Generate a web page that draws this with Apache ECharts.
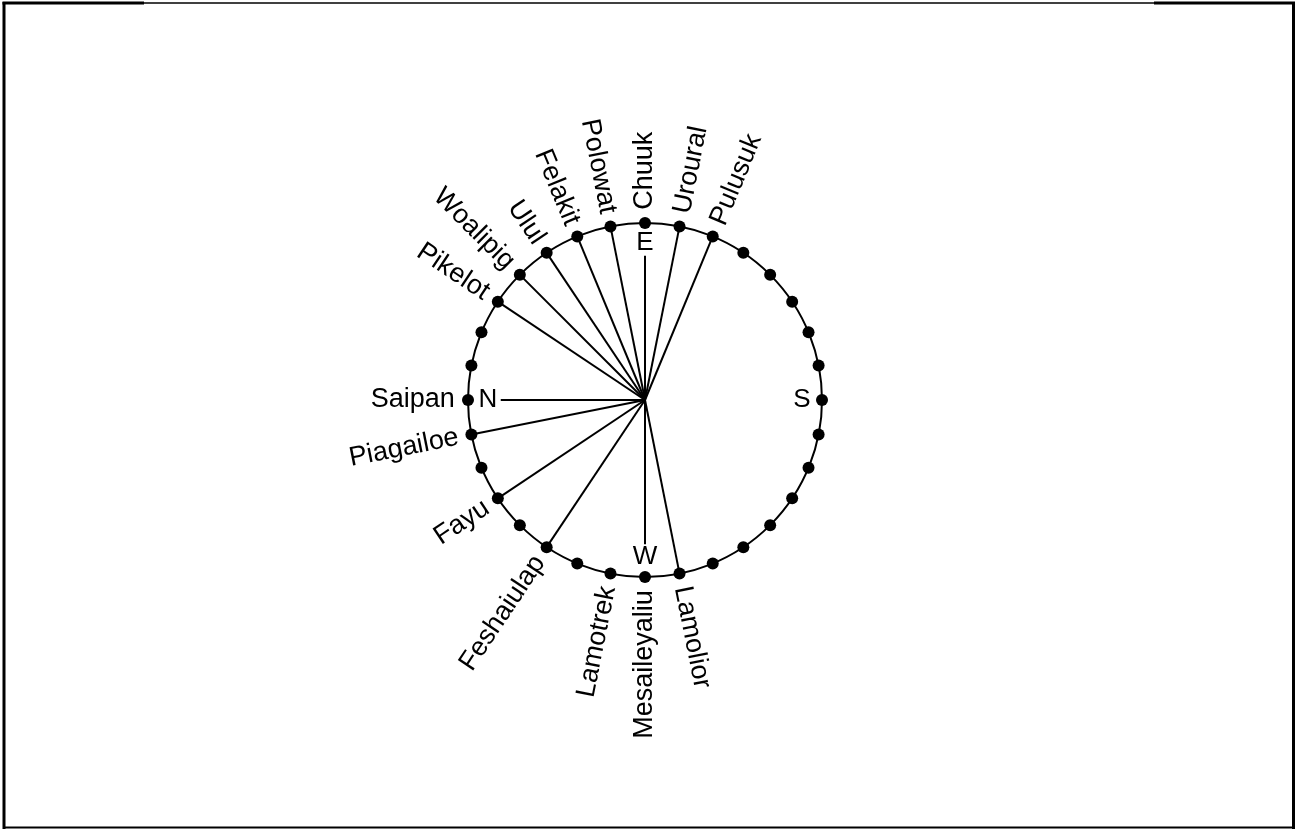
<!DOCTYPE html>
<html>
<head>
<meta charset="utf-8">
<script src="https://cdn.jsdelivr.net/npm/echarts@6/dist/echarts.min.js"></script>
<style>
html,body{margin:0;padding:0;background:#fff;}
#chart{width:1296px;height:829px;}
</style>
</head>
<body>
<div id="chart"></div>
<script>
// ---- data ----
const POINT_COUNT = 32;               // points of the star compass
const islands = ["Pulusuk","Uroural","Chuuk","Polowat","Felakit","Ulul","Woalipig","Pikelot",
                 "Saipan","Piagailoe","Fayu","Feshaiulap","Lamotrek","Mesaileyaliu","Lamolior"];
const islandPoint = [6,7,8,9,10,11,12,13,16,17,19,21,23,24,25];   // compass point index
const islandSpoke = [1,1,1,1,1,1,1,1,1,1,1,1,0,1,1];               // 1 = line from centre
const cardinals = ["S","E","N","W"];
const cardinalPoint = [0,8,16,24];

// ---- helpers ----
const STEP = 360 / POINT_COUNT;
const angleOf = k => k * STEP;
const CARD_R = 0.887, LABEL_R = 1.075, SPOKE_TO_CARD = 0.815;
const FONT = 'Liberation Sans, Arial, sans-serif';

const series = [];

// outer dots
const dots = [];
for (let k = 0; k < POINT_COUNT; k++) dots.push([1, angleOf(k)]);
series.push({
  type: 'scatter', coordinateSystem: 'polar', data: dots, clip: false,
  symbolSize: 12, itemStyle: {color: '#000', opacity: 1}, silent: true, z: 5
});

// spokes
islands.forEach((name, i) => {
  if (!islandSpoke[i]) return;
  const a = angleOf(islandPoint[i]);
  const end = cardinalPoint.includes(islandPoint[i]) ? SPOKE_TO_CARD : 1;
  series.push({
    type: 'line', coordinateSystem: 'polar', data: [[0, a], [end, a]],
    symbol: 'none', lineStyle: {color: '#000', width: 2}, silent: true, z: 3
  });
});

// island labels
series.push({
  type: 'scatter', coordinateSystem: 'polar', symbolSize: 1, silent: true, z: 6, clip: false,
  itemStyle: {color: 'rgba(0,0,0,0)', opacity: 1},
  data: islands.map((name, i) => {
    const a = angleOf(islandPoint[i]);
    const inward = a > 90 && a <= 270;
    return {
      name: name, value: [LABEL_R, a],
      label: {
        show: true, position: 'inside', formatter: name,
        rotate: inward ? a - 180 : a,
        align: inward ? 'right' : 'left', verticalAlign: 'middle',
        fontFamily: FONT, fontSize: 27, color: '#000'
      }
    };
  })
});

// cardinal letters
series.push({
  type: 'scatter', coordinateSystem: 'polar', symbolSize: 1, silent: true, z: 6,
  itemStyle: {color: 'rgba(0,0,0,0)', opacity: 1},
  data: cardinals.map((c, i) => ({
    name: c, value: [CARD_R, angleOf(cardinalPoint[i])],
    label: {show: true, position: 'inside', formatter: c, align: 'center', verticalAlign: 'middle',
      fontFamily: FONT, fontSize: 26, color: '#000'}
  }))
});

const chart = echarts.init(document.getElementById('chart'), null, {renderer: 'canvas'});
chart.setOption({
  animation: false,
  backgroundColor: '#fff',
  polar: {center: [645, 400], radius: 177},
  angleAxis: {
    type: 'value', min: 0, max: 360, startAngle: 0, clockwise: false,
    axisLine: {show: true, lineStyle: {color: '#000', width: 2}},
    axisTick: {show: false}, axisLabel: {show: false}, splitLine: {show: false}
  },
  radiusAxis: {
    type: 'value', min: 0, max: 1,
    axisLine: {show: false}, axisTick: {show: false}, axisLabel: {show: false}, splitLine: {show: false}
  },
  graphic: [
    {type: 'line', shape: {x1: 4, y1: 2, x2: 4, y2: 829}, style: {stroke: '#000', lineWidth: 3}},
    {type: 'line', shape: {x1: 2.5, y1: 3, x2: 144, y2: 3}, style: {stroke: '#000', lineWidth: 3}},
    {type: 'line', shape: {x1: 144, y1: 3, x2: 1154, y2: 3}, style: {stroke: '#000', lineWidth: 1.5}},
    {type: 'line', shape: {x1: 1154, y1: 3, x2: 1295, y2: 3}, style: {stroke: '#000', lineWidth: 3}},
    {type: 'line', shape: {x1: 1293.5, y1: 2, x2: 1293.5, y2: 829}, style: {stroke: '#000', lineWidth: 3}},
    {type: 'line', shape: {x1: 3, y1: 827.5, x2: 1295, y2: 827.5}, style: {stroke: '#000', lineWidth: 2}}
  ],
  series: series
});
</script>
</body>
</html>
